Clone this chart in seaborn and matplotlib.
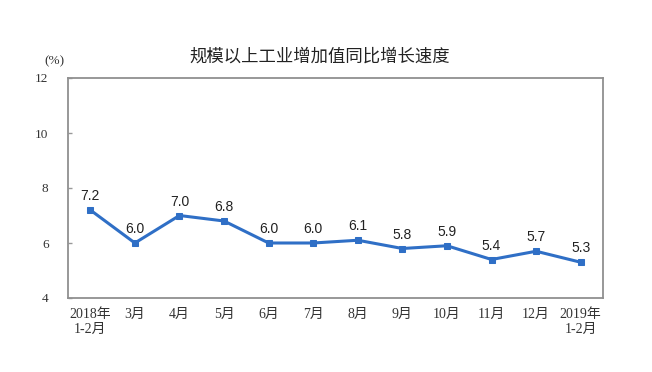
import numpy as np
import pandas as pd
import matplotlib.pyplot as plt
import seaborn as sns

months = ["2018年\n1-2月", "3月", "4月", "5月", "6月", "7月", "8月",
          "9月", "10月", "11月", "12月", "2019年\n1-2月"]
growth = [7.2, 6.0, 7.0, 6.8, 6.0, 6.0, 6.1, 5.8, 5.9, 5.4, 5.7, 5.3]
y_ticks = [4, 6, 8, 10, 12]

sns.set_style("white")
plt.rcParams['font.family'] = ['Liberation Serif', 'Noto Sans CJK SC', 'DejaVu Sans']

df = pd.DataFrame({"pos": np.arange(len(months)), "growth": growth})

fig = plt.figure(figsize=(6.52, 3.72), dpi=100)
ax = fig.add_axes([68 / 652, 1 - 298 / 372, 535 / 652, 220 / 372])

line_color = "#2F6FC6"
sns.lineplot(data=df, x="pos", y="growth", ax=ax, color=line_color, linewidth=2.2,
             marker="s", markersize=5, markeredgecolor=line_color)

for x, v in zip(df["pos"], growth):
    ax.annotate(f"{v:.1f}", (x, v), xytext=(0, 5), textcoords="offset points",
                ha="center", va="bottom", fontsize=10, color="#222222",
                family=["Liberation Sans", "DejaVu Sans"])

ax.set_xlim(-0.5, len(months) - 0.5)
ax.set_ylim(4, 12)
ax.set_yticks(y_ticks)
ax.set_yticklabels([str(t) for t in y_ticks], fontsize=9.5, color="#333333")
ax.set_xticks(df["pos"])
ax.set_xticklabels(months, fontsize=10, color="#333333", linespacing=1.25)
ax.set_xticks(np.arange(0.5, len(months) - 1, 1), minor=True)
ax.tick_params(axis="x", which="major", length=0, pad=7)
ax.tick_params(axis="x", which="minor", direction="in", length=4, color="#999999", width=1)
ax.tick_params(axis="y", direction="in", length=3, color="#999999", width=1, pad=14, left=True)
ax.set_xlabel("")
ax.set_ylabel("")

for s in ax.spines.values():
    s.set_color("#909090")
    s.set_linewidth(1.3)

fig.text(320 / 652, 1 - 57 / 372, "规模以上工业增加值同比增长速度", ha="center", va="center",
         fontsize=12.5, color="#222222", family=["Noto Sans CJK SC", "DejaVu Sans"])
fig.text(54 / 652, 1 - 61 / 372, "(%)", ha="center", va="center", fontsize=9.5, color="#333333")

fig.savefig("out.png", dpi=100)
